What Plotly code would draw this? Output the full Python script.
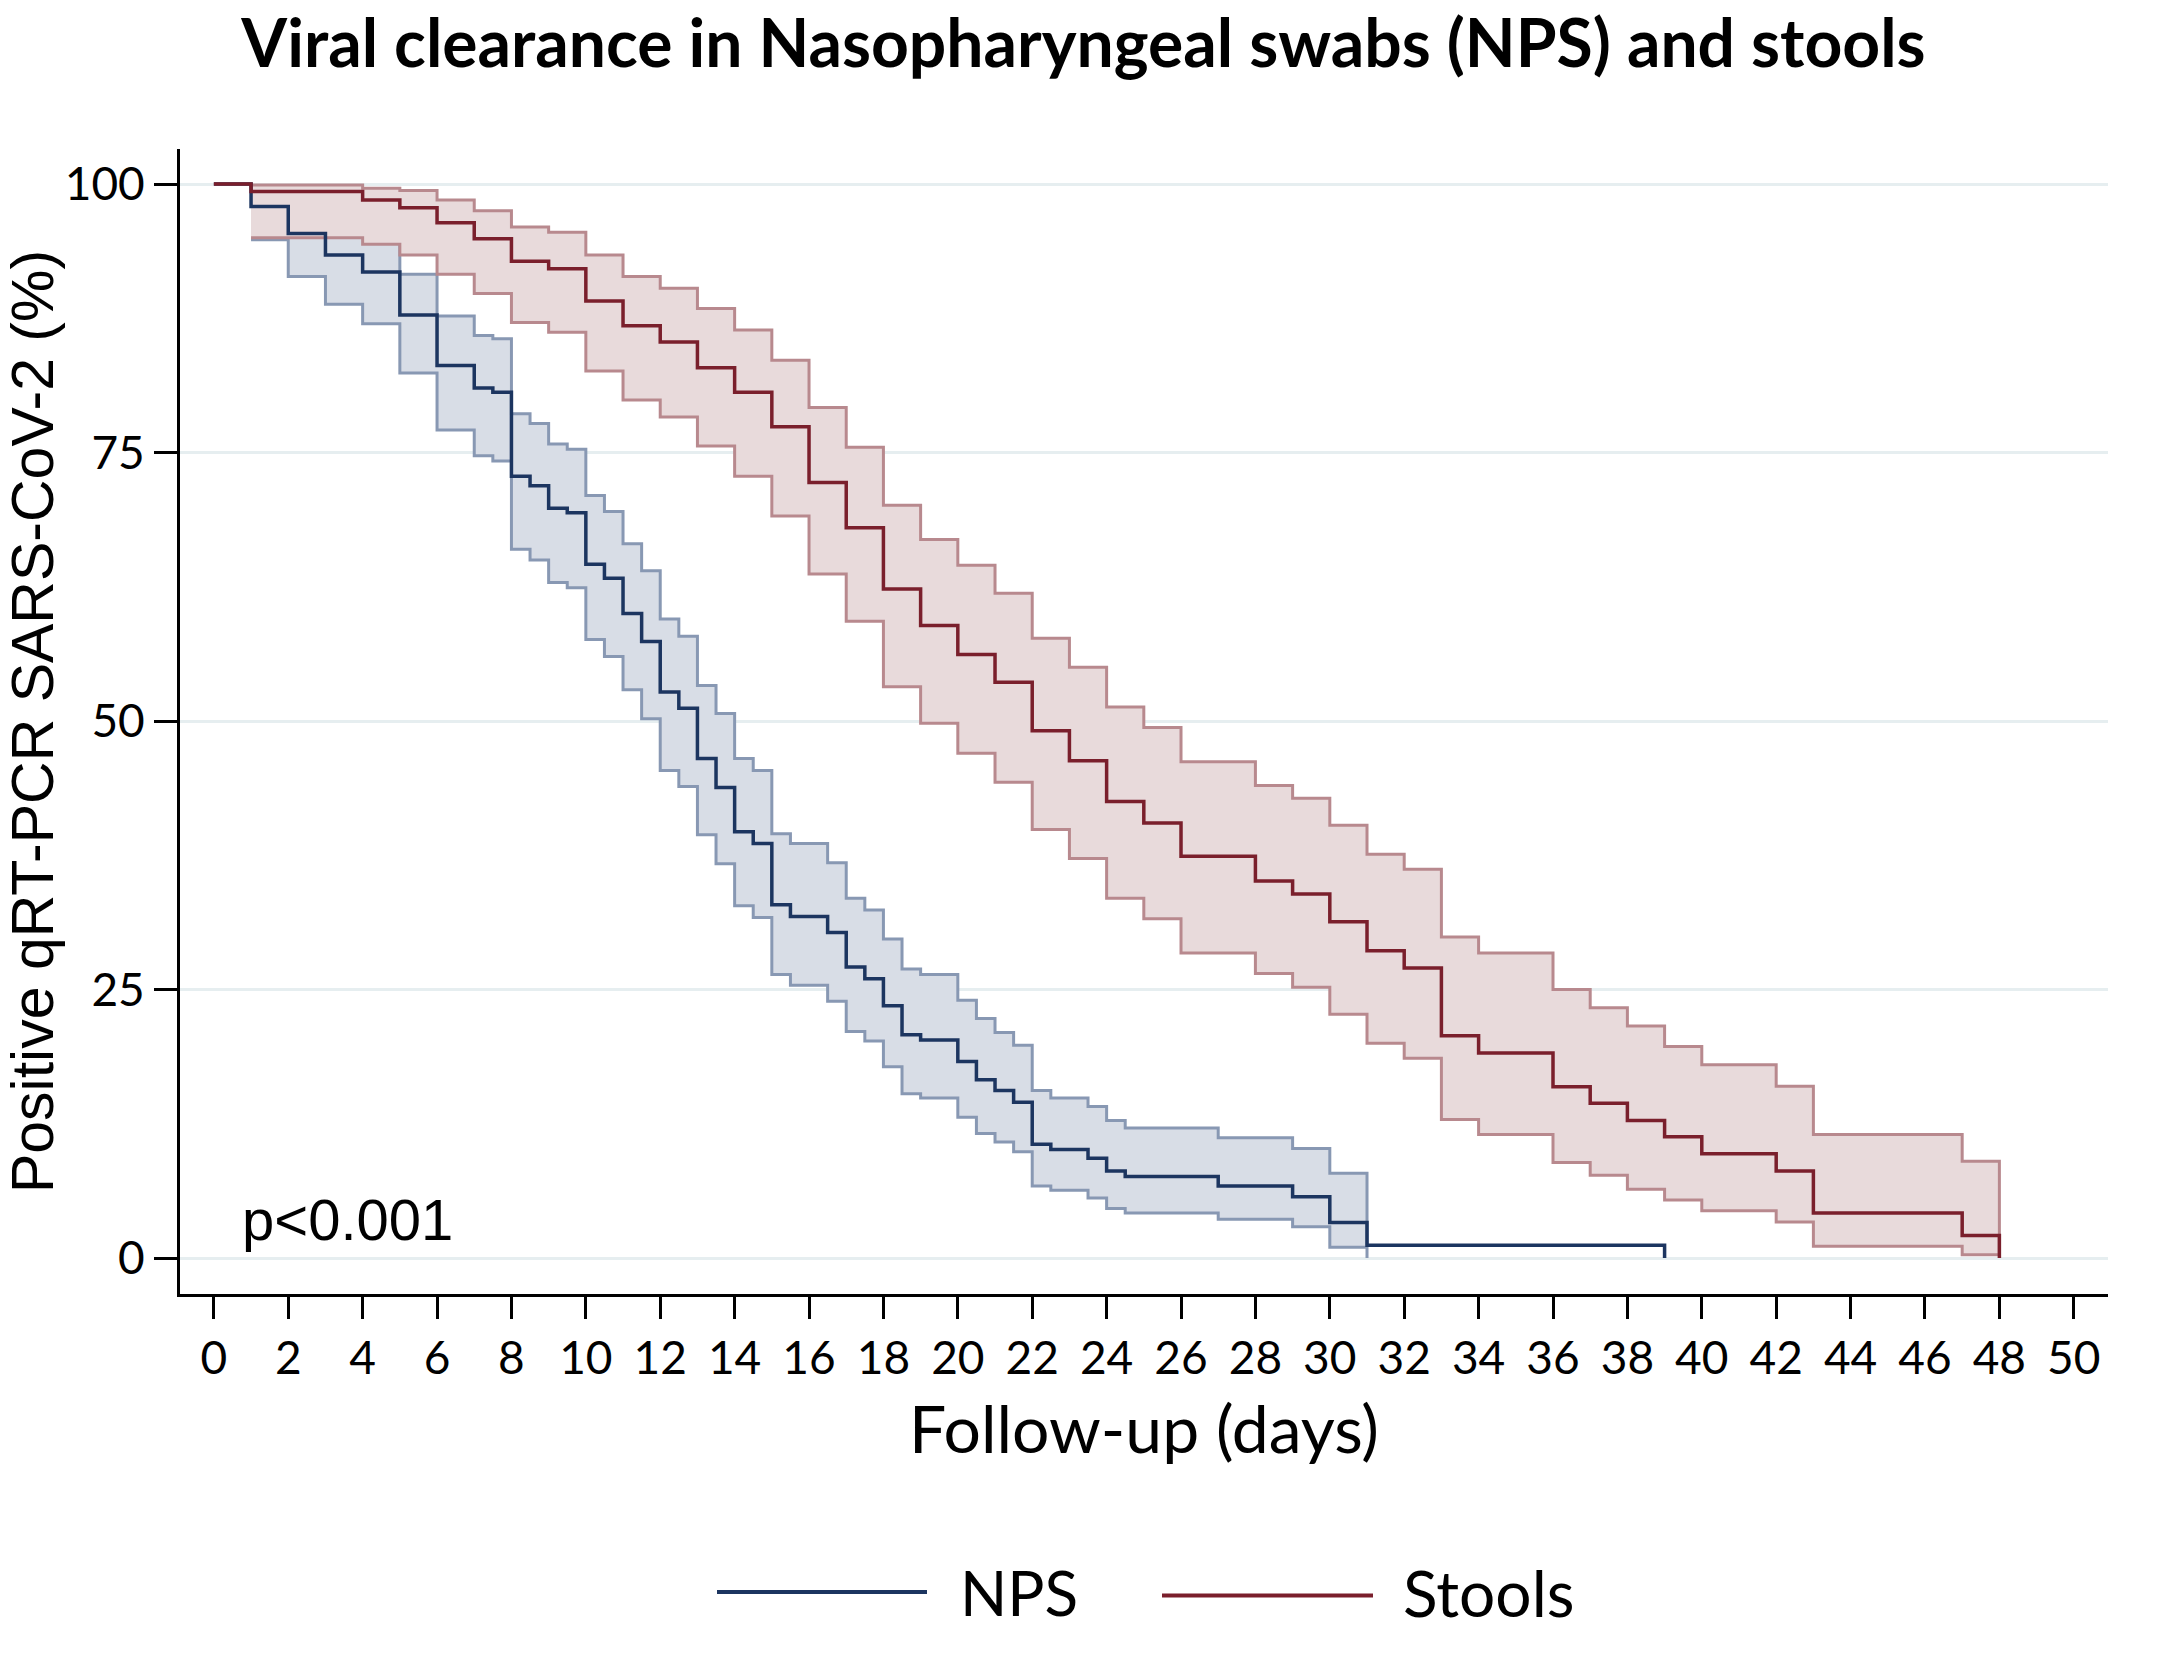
import plotly.graph_objects as go

# ---------------- data ----------------
# NPS Kaplan-Meier estimate (step function, value holds until next time)
nps_t = [0, 1, 2, 3, 4, 5, 6, 7, 7.5, 8, 8.5, 9, 9.5, 10, 10.5, 11, 11.5, 12, 12.5, 13,
         13.5, 14, 14.5, 15, 15.5, 16.5, 17, 17.5, 18, 18.5, 19, 20, 20.5, 21, 21.5, 22,
         22.5, 23.5, 24, 24.5, 27, 29, 30, 31, 39]
nps_s = [100, 97.9, 95.4, 93.4, 91.8, 87.8, 83.1, 81.0, 80.6, 72.8, 71.9, 69.8, 69.4, 64.6,
         63.3, 60.0, 57.4, 52.7, 51.2, 46.5, 43.8, 39.7, 38.6, 32.9, 31.8, 30.3, 27.1, 26.0,
         23.5, 20.8, 20.3, 18.3, 16.6, 15.6, 14.5, 10.6, 10.1, 9.3, 8.1, 7.6, 6.7, 5.7, 3.3,
         1.2, 0]

# NPS 95% confidence band
nps_ci_t = [1, 2, 3, 4, 5, 6, 7, 7.5, 8, 8.5, 9, 9.5, 10, 10.5, 11, 11.5, 12, 12.5, 13,
            13.5, 14, 14.5, 15, 15.5, 16.5, 17, 17.5, 18, 18.5, 19, 20, 20.5, 21, 21.5, 22,
            22.5, 23.5, 24, 24.5, 27, 29, 30, 31]
nps_hi = [99.7, 98.8, 97.8, 96.9, 91.6, 87.7, 85.9, 85.6, 78.6, 77.7, 75.8, 75.3, 71.0, 69.5,
          66.5, 64.0, 59.5, 57.9, 53.3, 50.7, 46.5, 45.4, 39.5, 38.6, 36.8, 33.5, 32.4, 29.7,
          26.9, 26.4, 24.0, 22.3, 21.0, 19.8, 15.6, 14.9, 14.1, 12.8, 12.1, 11.2, 10.2, 7.9, 1.2]
nps_lo = [94.8, 91.4, 88.8, 87.0, 82.4, 77.1, 74.7, 74.2, 66.0, 65.0, 62.9, 62.4, 57.6, 56.0,
          52.9, 50.2, 45.4, 43.9, 39.4, 36.7, 32.8, 31.7, 26.4, 25.4, 23.9, 21.1, 20.2, 17.8,
          15.3, 14.9, 13.1, 11.6, 10.8, 9.9, 6.7, 6.3, 5.6, 4.6, 4.2, 3.6, 2.9, 1.0, 0.0]

# Stools Kaplan-Meier estimate
stl_t = [0, 1, 4, 5, 6, 7, 8, 9, 10, 11, 12, 13, 14, 15, 16, 17, 18, 19, 20, 21, 22, 23, 24,
         25, 26, 28, 29, 30, 31, 32, 33, 34, 36, 37, 38, 39, 40, 42, 43, 47, 48]
stl_s = [100, 99.3, 98.5, 97.8, 96.4, 94.9, 92.8, 92.1, 89.1, 86.8, 85.3, 82.9, 80.6, 77.4,
         72.2, 68.0, 62.3, 58.9, 56.2, 53.6, 49.1, 46.3, 42.5, 40.5, 37.4, 35.1, 33.9, 31.3,
         28.6, 27.0, 20.7, 19.1, 15.95, 14.4, 12.8, 11.3, 9.7, 8.1, 4.2, 2.1, 0]

# Stools 95% confidence band
stl_ci_t = [1, 4, 5, 6, 7, 8, 9, 10, 11, 12, 13, 14, 15, 16, 17, 18, 19, 20, 21, 22, 23, 24,
            25, 26, 28, 29, 30, 31, 32, 33, 34, 36, 37, 38, 39, 40, 42, 43, 47, 48]
stl_hi = [99.9, 99.6, 99.4, 98.5, 97.5, 96.0, 95.5, 93.4, 91.4, 90.3, 88.4, 86.4, 83.6, 79.2,
          75.5, 70.1, 66.9, 64.5, 61.9, 57.7, 55.0, 51.3, 49.4, 46.2, 44.0, 42.8, 40.3, 37.6,
          36.2, 29.9, 28.4, 25.0, 23.3, 21.6, 19.7, 18.0, 16.0, 11.5, 9.0, 0.3]
stl_lo = [95.0, 94.4, 93.4, 91.6, 89.8, 87.1, 86.2, 82.6, 79.9, 78.3, 75.6, 72.8, 69.1, 63.7,
          59.3, 53.2, 49.8, 47.0, 44.3, 39.9, 37.2, 33.5, 31.6, 28.4, 26.5, 25.2, 22.7, 20.0,
          18.6, 12.9, 11.5, 8.9, 7.7, 6.4, 5.4, 4.4, 3.35, 1.1, 0.3, 0.3]

x_ticks = list(range(0, 51, 2))
y_ticks = [0, 25, 50, 75, 100]

# ---------------- styling ----------------
NPS_LINE = "#1c3560"
NPS_CI = "#8898b3"
NPS_FILL = "#d8dde6"
STL_LINE = "#7a1f2c"
STL_CI = "#b8898e"
STL_FILL = "#e8dadb"
GRID = "#e6eef0"

CAL = "Lato, 'Open Sans', sans-serif"
ARIAL = "'Liberation Sans', Arial, sans-serif"

fig = go.Figure()

# NPS band
fig.add_trace(go.Scatter(x=nps_ci_t, y=nps_hi, mode="lines", line=dict(shape="hv", color=NPS_CI, width=3),
                         showlegend=False, hoverinfo="skip"))
fig.add_trace(go.Scatter(x=nps_ci_t, y=nps_lo, mode="lines", line=dict(shape="hv", color=NPS_CI, width=3),
                         fill="tonexty", fillcolor=NPS_FILL, showlegend=False, hoverinfo="skip"))
# Stools band
fig.add_trace(go.Scatter(x=stl_ci_t, y=stl_hi, mode="lines", line=dict(shape="hv", color=STL_CI, width=3),
                         showlegend=False, hoverinfo="skip"))
fig.add_trace(go.Scatter(x=stl_ci_t, y=stl_lo, mode="lines", line=dict(shape="hv", color=STL_CI, width=3),
                         fill="tonexty", fillcolor=STL_FILL, showlegend=False, hoverinfo="skip"))
# Main curves
fig.add_trace(go.Scatter(x=nps_t, y=nps_s, mode="lines", name="NPS",
                         line=dict(shape="hv", color=NPS_LINE, width=3.5), showlegend=False))
fig.add_trace(go.Scatter(x=stl_t, y=stl_s, mode="lines", name="Stools",
                         line=dict(shape="hv", color=STL_LINE, width=3.5), showlegend=False))

W, H = 2167, 1657
ML, MR, MT, MB = 180, 59, 149, 363
PW, PH = W - ML - MR, H - MT - MB


def px_x(px):
    return (px - ML) / PW


def px_y(py):
    return (H - MB - py) / PH


# manual legend (long line samples as in reference)
leg_y = px_y(1592)
fig.add_shape(type="line", xref="paper", yref="paper", x0=px_x(717), x1=px_x(927), y0=leg_y, y1=leg_y,
              line=dict(color=NPS_LINE, width=4))
fig.add_shape(type="line", xref="paper", yref="paper", x0=px_x(1162), x1=px_x(1373), y0=leg_y - 0.003,
              y1=leg_y - 0.003, line=dict(color=STL_LINE, width=4))
fig.add_annotation(xref="paper", yref="paper", x=px_x(958), y=leg_y, text="NPS", showarrow=False,
                   xanchor="left", yanchor="middle", font=dict(family=CAL, size=62, color="black"))
fig.add_annotation(xref="paper", yref="paper", x=px_x(1401), y=leg_y, text="Stools", showarrow=False,
                   xanchor="left", yanchor="middle", font=dict(family=CAL, size=64, color="black"))

# p-value
fig.add_annotation(xref="paper", yref="paper", x=px_x(240), y=px_y(1219), text="p<0.001", showarrow=False,
                   xanchor="left", yanchor="middle", font=dict(family=ARIAL, size=58, color="black"))

fig.update_layout(
    width=W, height=H,
    margin=dict(l=ML, r=MR, t=MT, b=MB, autoexpand=False),
    paper_bgcolor="white", plot_bgcolor="white",
    title=dict(text="<b>Viral clearance in Nasopharyngeal swabs (NPS) and stools</b>",
               x=0.5, xref="container", xanchor="center",
               y=1 - 44 / H, yref="container", yanchor="middle",
               font=dict(family=CAL, size=66, color="black")),
    showlegend=False,
)

fig.update_xaxes(range=[-0.91, 50.92], tickvals=x_ticks, ticktext=[str(v) for v in x_ticks],
                 showgrid=False, zeroline=False, showline=True, linecolor="black", linewidth=3,
                 ticks="outside", ticklen=22, tickwidth=3, tickcolor="black",
                 tickfont=dict(family=CAL, size=46, color="black"),
                 title=dict(text="Follow-up (days)", font=dict(family=CAL, size=66, color="black"), standoff=24))
fig.update_yaxes(range=[-3.35, 103.26], tickvals=y_ticks, ticktext=[str(v) for v in y_ticks],
                 showgrid=True, gridcolor=GRID, gridwidth=3, zeroline=False,
                 showline=True, linecolor="black", linewidth=3,
                 ticks="outside", ticklen=23, tickwidth=3, tickcolor="black",
                 tickfont=dict(family=CAL, size=46, color="black"),
                 title=dict(text="Positive qRT-PCR SARS-CoV-2 (%)", font=dict(family=ARIAL, size=59, color="black"),
                            standoff=14))

fig.write_html("out.html", config={"displayModeBar": False},
               post_script="document.body.style.margin='0px';document.body.style.padding='0px';")
